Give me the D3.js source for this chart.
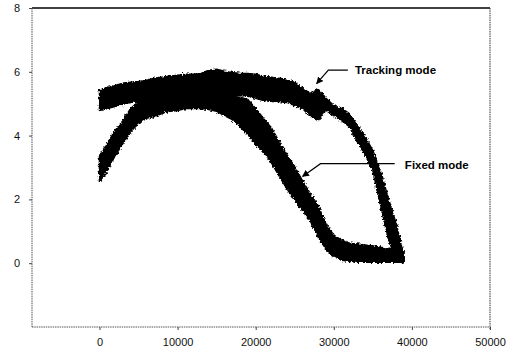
<!DOCTYPE html>
<html><head><meta charset="utf-8">
<script src="https://cdn.jsdelivr.net/npm/d3@7"></script>
<style>
html,body{margin:0;padding:0;background:#fff;}
svg{display:block;}
</style></head>
<body>
<svg id="chart" width="512" height="356"></svg>
<script>
// x positions (thousands of samples) shared by both traces
const xValues = [0,1000,2000,3000,4000,5000,6000,7000,8000,9000,10000,11000,12000,13000,14000,15000,16000,17000,18000,19000,20000,21000,22000,23000,24000,25000,26000,27000,28000,29000,30000,31000,32000,33000,34000,35000,36000,37000,38000,39000];

// Tracking mode: upper and lower edge of the noisy band
const trackingUpper = [5.42,5.51,5.57,5.64,5.67,5.70,5.73,5.80,5.83,5.86,5.89,5.92,5.92,5.95,6.05,6.08,6.02,5.98,5.95,5.95,5.92,5.86,5.83,5.80,5.73,5.67,5.48,5.32,5.45,5.17,4.94,4.85,4.69,4.31,3.97,3.53,2.87,2.02,1.23,0.19];
const trackingLower = [4.79,4.85,4.91,4.98,5.04,5.07,5.17,5.20,5.20,5.20,5.20,5.20,5.20,5.23,5.23,5.26,5.26,5.26,5.26,5.23,5.17,5.10,5.07,5.07,5.04,4.94,4.85,4.60,4.47,4.79,4.63,4.47,4.28,3.81,3.40,2.90,1.80,0.76,0.06,0.00];

// Fixed mode: upper and lower edge of the noisy band
const fixedUpper = [3.37,3.75,4.16,4.47,4.85,5.07,5.17,5.23,5.26,5.29,5.32,5.32,5.32,5.32,5.32,5.29,5.26,5.23,5.20,5.13,4.85,4.54,4.25,3.81,3.40,3.02,2.58,2.17,1.80,1.23,0.88,0.72,0.63,0.60,0.57,0.54,0.50,0.47,0.41,0.38];
const fixedLower = [2.55,2.90,3.37,3.75,4.13,4.38,4.54,4.60,4.69,4.76,4.79,4.85,4.85,4.85,4.82,4.76,4.63,4.50,4.28,4.03,3.72,3.50,3.15,2.74,2.33,1.98,1.64,1.32,0.82,0.44,0.22,0.09,0.06,0.03,0.03,0.03,0.03,0.03,0.03,0.03];

const xTicks = [0,10000,20000,30000,40000,50000];
const yTicks = [0,2,4,6,8];

// annotations (data coordinates)
const labels = [
  {text:"Tracking mode", x:32700, y:5.92, path:[[31800,6.05],[29300,6.05],[27800,5.63]]},
  {text:"Fixed mode", x:39100, y:2.95, path:[[37800,3.12],[28300,3.12],[26000,2.72]]}
];

const svg = d3.select("#chart");
const x = d3.scaleLinear().domain([-8640,50000]).range([32,490]);
const y = d3.scaleLinear().domain([-2,8]).range([327,8]);

const defs = svg.append("defs");
const f = defs.append("filter").attr("id","rough").attr("x","-5%").attr("y","-5%").attr("width","110%").attr("height","110%");
f.append("feTurbulence").attr("type","fractalNoise").attr("baseFrequency","0.45").attr("numOctaves",2).attr("seed",4).attr("result","n");
f.append("feDisplacementMap").attr("in","SourceGraphic").attr("in2","n").attr("scale",4.5).attr("xChannelSelector","R").attr("yChannelSelector","G");
defs.append("marker").attr("id","arr").attr("viewBox","0 0 10 10").attr("refX",9).attr("refY",5)
  .attr("markerWidth",7).attr("markerHeight",7).attr("orient","auto-start-reverse").attr("markerUnits","userSpaceOnUse")
  .append("path").attr("d","M0,0 L10,5 L0,10 z").attr("fill","#000");

// frame
svg.append("line").attr("x1",x.range()[0]).attr("x2",x.range()[1]).attr("y1",y.range()[1]).attr("y2",y.range()[1]).attr("stroke","#000").attr("stroke-width",1.3);
svg.append("line").attr("x1",x.range()[1]).attr("x2",x.range()[1]).attr("y1",y.range()[1]).attr("y2",y.range()[0]+3).attr("stroke","#333").attr("stroke-dasharray","1.5,0.8");

// axes
const yAxis = svg.append("g").attr("transform",`translate(${x.range()[0]},0)`)
  .call(d3.axisLeft(y).tickValues(yTicks).tickSize(3).tickPadding(9).tickFormat(d3.format("d")));
const xAxis = svg.append("g").attr("transform",`translate(0,${y.range()[0]})`)
  .call(d3.axisBottom(x).tickValues(xTicks).tickSize(3).tickPadding(8).tickFormat(d3.format("d")));
[xAxis,yAxis].forEach(g=>{
  g.select(".domain").attr("stroke","#555").attr("stroke-dasharray","1.5,0.8");
  g.selectAll(".tick line").attr("stroke","#444");
  g.selectAll("text").attr("font-family","Liberation Sans, Arial, sans-serif").attr("font-size",11).attr("fill","#111");
});
yAxis.select(".domain").attr("d",`M0,${y.range()[0]}V${y.range()[1]}`);
xAxis.select(".domain").attr("d",`M${x.range()[0]},0H${x.range()[1]}`);

// traces
const area = d3.area().x(d=>x(d.x)).y0(d=>y(d.lo)).y1(d=>y(d.hi)).curve(d3.curveLinear);
const series = [
  xValues.map((v,i)=>({x:v,hi:fixedUpper[i],lo:fixedLower[i]})),
  xValues.map((v,i)=>({x:v,hi:trackingUpper[i],lo:trackingLower[i]}))
];
const g = svg.append("g").attr("filter","url(#rough)");
g.selectAll("path.band").data(series).join("path").attr("class","band")
  .attr("d",area).attr("fill","#000").attr("stroke","#000").attr("stroke-width",1.5).attr("stroke-linejoin","round");

// annotations
const line = d3.line().x(d=>x(d[0])).y(d=>y(d[1]));
labels.forEach(l=>{
  svg.append("path").attr("d",line(l.path)).attr("fill","none").attr("stroke","#000").attr("stroke-width",1.2).attr("marker-end","url(#arr)");
  svg.append("text").attr("x",x(l.x)).attr("y",y(l.y)).text(l.text)
    .attr("font-family","Liberation Sans, Arial, sans-serif").attr("font-weight","bold").attr("font-size",11.5).attr("fill","#000");
});
</script>
</body></html>
